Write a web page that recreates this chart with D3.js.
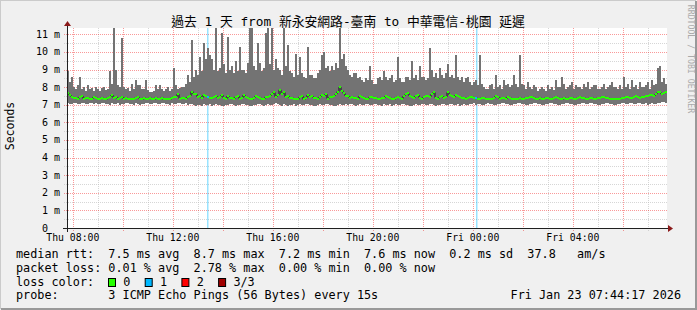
<!DOCTYPE html>
<html>
<head>
<meta charset="utf-8">
<script src="https://cdn.jsdelivr.net/npm/d3@7"></script>
<style>
body { margin: 0; background: #fff; }
svg text { font-family: "DejaVu Sans Mono", "Noto Sans CJK TC", monospace; white-space: pre; }
</style>
</head>
<body>
<svg id="chart" width="697" height="310"></svg>
<script>
// smokeping style latency graph, values in ms

const title = "過去 1 天 from 新永安網路-臺南 to 中華電信-桃園 延遲"
const startTime = Date.UTC(2026, 0, 22, 7, 46)
const endTime = Date.UTC(2026, 0, 23, 7, 46)
const stepMinutes = 4.8

const smokeMax = [
  8.9, 8.3, 8.6, 8.0, 7.9, 8.1, 8.55, 7.9, 8.0, 7.8,
  8.1, 7.9, 7.95, 7.8, 8.0, 7.9, 7.8, 7.95, 8.0, 7.85,
  7.9, 8.9, 8.2, 11.36, 9.0, 8.1, 8.0, 10.8, 8.0, 7.9,
  7.95, 7.8, 8.2, 7.9, 8.4, 8.1, 8.1, 7.9, 7.9, 8.4,
  7.85, 7.7, 7.75, 7.8, 8.1, 7.9, 8.15, 7.9, 7.8, 7.9,
  8.0, 7.8, 7.9, 9.07, 8.1, 7.9, 7.95, 8.0, 8.0, 8.2,
  8.7, 8.3, 10.7, 8.6, 9.0, 8.7, 9.7, 8.9, 10.5, 9.6,
  10.2, 9.8, 9.6, 9.0, 11.36, 8.9, 9.1, 11.1, 9.3, 8.8,
  10.85, 9.0, 9.2, 8.8, 9.5, 8.9, 10.3, 9.0, 9.0, 8.8,
  9.4, 11.36, 11.36, 9.2, 9.0, 10.5, 9.4, 8.9, 9.1, 11.1,
  11.36, 9.3, 11.36, 9.0, 9.6, 9.1, 9.0, 8.7, 11.36, 9.2,
  10.4, 8.9, 8.8, 8.6, 9.9, 8.7, 9.7, 8.8, 8.6, 8.5,
  10.3, 8.7, 8.7, 8.5, 8.5, 8.8, 9.0, 9.8, 10.0, 9.1,
  9.2, 8.9, 9.2, 9.0, 9.4, 9.1, 11.36, 9.6, 9.9, 9.2,
  9.0, 8.7, 8.6, 8.8, 8.8, 8.5, 8.6, 8.4, 8.3, 8.5,
  8.4, 9.2, 8.4, 8.2, 8.2, 8.5, 8.6, 8.4, 8.9, 8.6,
  8.4, 8.5, 8.7, 8.3, 8.4, 9.7, 8.5, 8.3, 8.3, 8.6,
  8.6, 8.4, 9.5, 8.5, 8.7, 8.4, 9.2, 8.6, 8.6, 8.4,
  8.5, 10.2, 9.0, 8.6, 8.8, 8.5, 9.1, 8.7, 8.5, 8.8,
  9.3, 8.6, 8.7, 8.5, 9.8, 8.6, 8.4, 8.6, 8.3, 8.5,
  8.6, 8.3, 8.1, 8.3, 8.4, 8.1, 9.8, 8.2, 8.0, 7.9,
  7.9, 8.1, 8.2, 7.9, 8.7, 8.0, 8.1, 7.9, 8.4, 8.1,
  8.2, 8.0, 8.1, 8.7, 8.2, 8.0, 9.8, 8.2, 8.1, 7.9,
  8.3, 8.0, 7.9, 8.1, 8.0, 7.8, 7.9, 8.0, 7.9, 7.8,
  8.1, 7.9, 8.0, 7.85, 8.4, 8.0, 8.0, 8.6, 8.2, 7.9,
  8.0, 8.1, 8.3, 7.9, 8.1, 8.0, 8.0, 7.9, 8.2, 8.0,
  8.3, 7.9, 8.0, 8.1, 8.1, 7.9, 7.9, 8.0, 8.2, 7.9,
  8.0, 8.1, 8.3, 8.0, 8.0, 7.9, 8.1, 7.9, 8.6, 8.0,
  8.2, 7.9, 8.4, 8.0, 8.1, 7.9, 8.3, 8.0, 8.0, 8.1,
  8.3, 7.9, 8.4, 8.1, 8.2, 9.1, 9.2, 8.3, 8.5, 8.2
]

const smokeMin = [
  7.1, 7.05, 7.05, 7.1, 7.1, 7.05, 7.05, 7.1, 7.1, 7.05,
  7.05, 7.1, 7.1, 7.05, 7.1, 7.05, 7.05, 7.1, 7.1, 7.05,
  7.05, 7.0, 7.1, 7.05, 7.05, 7.1, 7.0, 7.05, 7.05, 7.1,
  7.1, 7.05, 7.05, 7.0, 7.1, 7.05, 7.0, 7.05, 7.05, 7.1,
  7.1, 7.05, 7.05, 7.1, 7.1, 7.05, 7.05, 7.1, 7.1, 7.05,
  7.05, 7.0, 7.1, 7.05, 7.05, 7.1, 7.1, 7.05, 7.05, 7.1,
  7.0, 7.05, 7.05, 7.0, 6.95, 7.0, 7.0, 6.95, 7.05, 7.0,
  7.0, 7.05, 6.95, 7.0, 7.05, 7.0, 7.0, 6.95, 6.95, 7.0,
  7.0, 7.05, 7.05, 7.0, 6.95, 7.0, 7.0, 7.05, 7.05, 7.0,
  7.0, 6.95, 6.95, 7.0, 7.0, 7.05, 7.05, 7.0, 6.95, 7.0,
  7.05, 7.0, 7.0, 7.05, 7.1, 7.05, 7.0, 6.95, 7.05, 7.0,
  6.95, 7.0, 7.0, 7.05, 6.95, 7.0, 7.05, 7.0, 7.0, 7.05,
  7.05, 7.0, 7.0, 6.95, 6.95, 7.0, 7.05, 7.0, 7.0, 7.05,
  7.05, 7.0, 7.0, 6.95, 6.95, 7.0, 7.05, 7.0, 7.0, 7.05,
  7.0, 7.05, 7.05, 7.0, 6.95, 7.0, 7.05, 7.0, 7.0, 7.05,
  7.05, 7.0, 7.0, 7.05, 7.05, 7.0, 7.0, 6.95, 7.05, 7.0,
  7.0, 7.05, 6.95, 7.0, 7.05, 7.0, 7.0, 7.05, 7.05, 7.0,
  7.0, 6.95, 6.95, 7.0, 7.05, 7.0, 7.0, 7.05, 7.05, 7.0,
  7.0, 7.05, 7.05, 7.0, 6.95, 7.0, 7.0, 7.05, 7.05, 7.0,
  7.0, 7.05, 7.05, 7.0, 7.0, 7.05, 6.95, 7.0, 7.05, 7.0,
  7.0, 7.05, 7.05, 7.1, 7.0, 7.05, 7.05, 7.0, 7.0, 7.05,
  7.1, 7.05, 7.05, 7.0, 7.0, 7.05, 7.05, 7.1, 7.1, 7.05,
  7.05, 7.0, 7.0, 7.05, 7.05, 7.1, 7.1, 7.05, 7.05, 7.0,
  7.0, 7.05, 7.05, 7.1, 7.1, 7.05, 7.05, 7.0, 7.0, 7.05,
  7.05, 7.1, 7.1, 7.05, 7.05, 7.0, 7.0, 7.05, 7.05, 7.1,
  7.1, 7.05, 7.05, 7.0, 7.0, 7.05, 7.05, 7.1, 7.1, 7.05,
  7.05, 7.1, 7.1, 7.05, 7.05, 7.0, 7.0, 7.05, 7.05, 7.1,
  7.1, 7.05, 7.05, 7.0, 7.0, 7.05, 7.05, 7.1, 7.1, 7.05,
  7.05, 7.1, 7.1, 7.05, 7.05, 7.1, 7.1, 7.05, 7.05, 7.1,
  7.0, 7.05, 7.1, 7.05, 7.05, 7.1, 7.1, 7.15, 7.15, 7.1
]

const median = [
  7.65, 7.55, 7.45, 7.4, 7.4, 7.35, 7.45, 7.5, 7.35, 7.4,
  7.4, 7.35, 7.35, 7.45, 7.4, 7.35, 7.35, 7.4, 7.35, 7.3,
  7.4, 7.45, 7.55, 7.4, 7.45, 7.35, 7.4, 7.45, 7.35, 7.4,
  7.35, 7.3, 7.3, 7.35, 7.4, 7.45, 7.35, 7.3, 7.4, 7.35,
  7.35, 7.4, 7.35, 7.3, 7.4, 7.35, 7.35, 7.4, 7.3, 7.35,
  7.35, 7.3, 7.4, 7.45, 7.45, 7.6, 7.35, 7.4, 7.4, 7.35,
  7.45, 7.5, 7.75, 7.6, 7.6, 7.45, 7.5, 7.4, 7.55, 7.5,
  7.45, 7.4, 7.4, 7.45, 7.5, 7.4, 7.45, 7.55, 7.4, 7.35,
  7.5, 7.4, 7.4, 7.35, 7.45, 7.5, 7.35, 7.4, 7.55, 7.45,
  7.4, 7.35, 7.3, 7.4, 7.5, 7.45, 7.4, 7.35, 7.35, 7.45,
  7.45, 7.5, 7.6, 7.7, 7.45, 7.55, 7.85, 7.6, 7.7, 7.45,
  7.5, 7.4, 7.4, 7.35, 7.35, 7.3, 7.45, 7.5, 7.3, 7.4,
  7.55, 7.45, 7.5, 7.4, 7.4, 7.35, 7.45, 7.55, 7.5, 7.6,
  7.35, 7.45, 7.45, 7.5, 7.6, 7.75, 8.0, 7.8, 7.65, 7.5,
  7.5, 7.4, 7.45, 7.4, 7.4, 7.35, 7.5, 7.45, 7.4, 7.35,
  7.35, 7.45, 7.45, 7.4, 7.4, 7.35, 7.35, 7.4, 7.4, 7.5,
  7.45, 7.4, 7.35, 7.3, 7.4, 7.45, 7.4, 7.35, 7.5, 7.6,
  7.65, 7.5, 7.45, 7.4, 7.5, 7.55, 7.4, 7.35, 7.45, 7.5,
  7.5, 7.45, 7.6, 7.7, 7.4, 7.35, 7.45, 7.5, 7.4, 7.45,
  7.7, 7.55, 7.5, 7.45, 7.55, 7.5, 7.45, 7.4, 7.4, 7.35,
  7.4, 7.45, 7.45, 7.4, 7.4, 7.35, 7.35, 7.4, 7.4, 7.35,
  7.3, 7.35, 7.35, 7.4, 7.5, 7.45, 7.35, 7.4, 7.4, 7.35,
  7.45, 7.4, 7.35, 7.3, 7.3, 7.35, 7.4, 7.35, 7.35, 7.4,
  7.4, 7.45, 7.45, 7.4, 7.35, 7.3, 7.4, 7.35, 7.35, 7.4,
  7.4, 7.35, 7.35, 7.4, 7.45, 7.4, 7.35, 7.3, 7.4, 7.35,
  7.35, 7.4, 7.4, 7.35, 7.35, 7.4, 7.45, 7.4, 7.4, 7.35,
  7.35, 7.4, 7.4, 7.35, 7.35, 7.4, 7.4, 7.45, 7.45, 7.4,
  7.4, 7.35, 7.35, 7.3, 7.3, 7.35, 7.35, 7.4, 7.4, 7.45,
  7.45, 7.4, 7.4, 7.45, 7.5, 7.45, 7.4, 7.45, 7.45, 7.5,
  7.5, 7.55, 7.55, 7.5, 7.6, 7.7, 7.7, 7.6, 7.65, 7.7
]

const lossTimes = [Date.UTC(2026, 0, 22, 13, 22), Date.UTC(2026, 0, 23, 0, 8)]
const lossCounts = [1, 1]

const yMajorTicks = [0, 1, 2, 3, 4, 5, 6, 7, 8, 9, 10, 11]
const yMinorTicks = [0.5, 1.5, 2.5, 3.5, 4.5, 5.5, 6.5, 7.5, 8.5, 9.5, 10.5]

const lossLabels = ["0", "1", "2", "3/3"]
const lossColors = ["#26ff00", "#00b8ff", "#ff0000", "#a00000"]

const legendRows = [
  "median rtt:  7.5 ms avg  8.7 ms max  7.2 ms min  7.6 ms now  0.2 ms sd  37.8   am/s",
  "packet loss: 0.01 % avg  2.78 % max  0.00 % min  0.00 % now",
  "loss color:",
  "probe:       3 ICMP Echo Pings (56 Bytes) every 15s"
]
const stampText = "Fri Jan 23 07:44:17 2026"

const svg = d3.select("#chart")

// frame
svg.append("rect").attr("width", 697).attr("height", 310).attr("fill", "#f0f0f0")
svg.append("path").attr("d", "M0,309V0H696").attr("fill", "none").attr("stroke", "#cbcbcb").attr("stroke-width", 2)
svg.append("path").attr("d", "M1,309H696V1").attr("fill", "none").attr("stroke", "#999").attr("stroke-width", 2)

const x = d3.scaleUtc().domain([startTime, endTime]).range([67, 667])
const y = d3.scaleLinear().domain([0, 11.36]).range([228, 28])

svg.append("rect")
  .attr("x", x.range()[0]).attr("y", y.range()[1])
  .attr("width", x.range()[1] - x.range()[0]).attr("height", y.range()[0] - y.range()[1])
  .attr("fill", "#fff")

var grid = svg.append("g").attr("stroke-dasharray", "1,1").attr("shape-rendering", "crispEdges")

var hoursMinor = d3.utcHour.every(1).range(new Date(startTime), new Date(endTime)).filter(d => d.getUTCHours() % 2)
var hoursMajor = d3.utcHour.every(2).range(new Date(startTime), new Date(endTime))
var hoursLabel = d3.utcHour.every(4).range(new Date(startTime), new Date(endTime))

grid.selectAll(".xminor").data(hoursMinor).enter().append("line")
  .attr("x1", d => Math.round(x(d)) + 0.5).attr("x2", d => Math.round(x(d)) + 0.5)
  .attr("y1", y(0) + 3).attr("y2", y.range()[1])
  .attr("stroke", "#bababa").attr("stroke-opacity", 0.6)

grid.selectAll(".yminor").data(yMinorTicks).enter().append("line")
  .attr("x1", x.range()[0] - 3).attr("x2", x.range()[1])
  .attr("y1", d => Math.round(y(d)) + 0.5).attr("y2", d => Math.round(y(d)) + 0.5)
  .attr("stroke", "#bababa").attr("stroke-opacity", 0.6)

grid.selectAll(".xmajor").data(hoursMajor).enter().append("line")
  .attr("x1", d => Math.round(x(d)) + 0.5).attr("x2", d => Math.round(x(d)) + 0.5)
  .attr("y1", y(0) + 3).attr("y2", y.range()[1])
  .attr("stroke", "#f00000").attr("stroke-opacity", 0.4)

grid.selectAll(".ymajor").data(yMajorTicks.slice(1)).enter().append("line")
  .attr("x1", x.range()[0] - 3).attr("x2", x.range()[1])
  .attr("y1", d => Math.round(y(d)) + 0.5).attr("y2", d => Math.round(y(d)) + 0.5)
  .attr("stroke", "#f00000").attr("stroke-opacity", 0.4)

// loss bars (full height)
var stepMs = stepMinutes * 60000
svg.append("g").selectAll("rect").data(lossTimes).enter().append("rect")
  .attr("x", d => Math.round(x(d))).attr("width", 1.5)
  .attr("y", y.range()[1]).attr("height", y(0) - y.range()[1])
  .attr("fill", (d, i) => lossColors[lossCounts[i]]).attr("fill-opacity", 0.4)

// smoke
var pts = median.map((m, i) => ({
  t0: startTime + i * stepMs,
  t1: startTime + (i + 1) * stepMs,
  hi: Math.min(smokeMax[i], y.domain()[1]),
  lo: smokeMin[i],
  med: m
}))
pts.forEach(p => {
  var k = lossTimes.findIndex(t => t >= p.t0 && t < p.t1)
  p.loss = k < 0 ? 0 : lossCounts[k]
})

svg.append("g").attr("shape-rendering", "crispEdges").selectAll("rect").data(pts).enter().append("rect")
  .attr("x", d => x(d.t0)).attr("width", d => x(d.t1) - x(d.t0))
  .attr("y", d => y(d.hi)).attr("height", d => y(d.lo) - y(d.hi))
  .attr("fill", "#737373")

// median: dark step line plus loss coloured band
var medLine = d3.line().x(d => x(d.t0)).y(d => y(d.med)).curve(d3.curveStepAfter)
svg.append("path").datum(pts.concat([{t0: endTime, med: median[median.length - 1]}]))
  .attr("d", medLine).attr("fill", "none").attr("stroke", "#181818").attr("stroke-width", 1)

svg.append("g").attr("shape-rendering", "crispEdges").selectAll("rect").data(pts).enter().append("rect")
  .attr("x", d => x(d.t0)).attr("width", d => x(d.t1) - x(d.t0))
  .attr("y", d => y(d.med) - 1).attr("height", 2)
  .attr("fill", d => lossColors[d.loss])

// axes
var axis = svg.append("g").attr("shape-rendering", "crispEdges")
axis.append("line").attr("x1", x.range()[0] - 4).attr("x2", x.range()[1] + 2)
  .attr("y1", y(0) + 0.5).attr("y2", y(0) + 0.5).attr("stroke", "#202020")
axis.append("line").attr("x1", x.range()[0] + 0.5).attr("x2", x.range()[0] + 0.5)
  .attr("y1", y(0) + 4).attr("y2", y.range()[1] - 3).attr("stroke", "#202020")
svg.append("path")
  .attr("d", `M${x.range()[1] + 1},${y(0) - 3}L${x.range()[1] + 6},${y(0) + 0.5}L${x.range()[1] + 1},${y(0) + 4}Z`)
  .attr("fill", "#8b1a1a")
svg.append("path")
  .attr("d", `M${x.range()[0] - 3},${y.range()[1] - 2}L${x.range()[0] + 0.5},${y.range()[1] - 7}L${x.range()[0] + 4},${y.range()[1] - 2}Z`)
  .attr("fill", "#8b1a1a")

var fmtHour = d3.utcFormat("%a %H:%M")
svg.append("g").selectAll("text").data(hoursLabel).enter().append("text")
  .attr("x", d => x(d)).attr("y", 241)
  .attr("text-anchor", "middle").attr("font-size", "9.8px").attr("fill", "#000")
  .text(d => fmtHour(d))

svg.append("g").selectAll("text").data(yMajorTicks).enter().append("text")
  .attr("x", d => d === 0 ? 48 : 60).attr("y", d => y(d)).attr("dy", "0.35em")
  .attr("text-anchor", "end").attr("font-size", "10px").attr("fill", "#000")
  .text(d => d === 0 ? "0" : d + " m")

svg.append("text")
  .attr("transform", "translate(14,126) rotate(-90)")
  .attr("text-anchor", "middle").attr("font-size", "11.5px").attr("fill", "#000")
  .text("Seconds")

svg.append("text")
  .attr("x", 348).attr("y", 26).attr("text-anchor", "middle")
  .attr("font-size", "12.8px").attr("fill", "#000")
  .text(title)

svg.append("text")
  .attr("transform", "translate(688,59) rotate(90)")
  .attr("text-anchor", "middle").attr("font-size", "8.2px").attr("fill", "#aaa")
  .text("RRDTOOL / TOBI OETIKER")

// legend
var legend = svg.append("g").attr("font-size", "11.8px").attr("fill", "#000")
legend.selectAll("text").data(legendRows).enter().append("text")
  .attr("x", 16).attr("y", (d, i) => 258 + i * 13.8)
  .text(d => d)

legend.selectAll(".lossbox").data(lossLabels).enter().append("rect")
  .attr("x", (d, i) => 108.5 + i * 36.7).attr("y", 278.5)
  .attr("width", 7).attr("height", 8)
  .attr("fill", (d, i) => lossColors[i]).attr("stroke", "#000").attr("stroke-width", 1)
legend.selectAll(".losslabel").data(lossLabels).enter().append("text")
  .attr("x", (d, i) => 123.3 + i * 36.7).attr("y", 258 + 2 * 13.8)
  .text(d => d)

legend.append("text")
  .attr("x", 681).attr("y", 258 + 3 * 13.8).attr("text-anchor", "end")
  .text(stampText)
</script>
</body>
</html>
